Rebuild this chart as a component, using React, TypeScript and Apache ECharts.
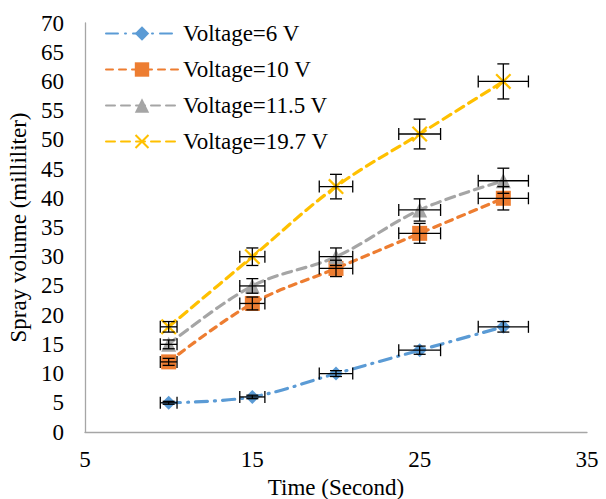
import React, { useEffect, useRef } from "react";
import * as echarts from "echarts";

const seriesNames = ["Voltage=6 V", "Voltage=10 V", "Voltage=11.5 V", "Voltage=19.7 V"];
const timeValues = [10, 15, 20, 25, 30];
const timeErrors = [0.5, 0.75, 1, 1.25, 1.5];
const volume6V = [5, 6, 10, 14, 18];
const volume10V = [12, 22, 28, 34, 40];
const volume11V = [15, 25, 30, 38, 43];
const volume19V = [18, 30, 42, 51, 60];
const err6V = [0.25, 0.3, 0.5, 0.7, 0.9];
const err10V = [0.6, 1.1, 1.4, 1.7, 2];
const err11V = [0.75, 1.25, 1.5, 1.9, 2.15];
const err19V = [0.9, 1.5, 2.1, 2.55, 3];
const xTicks = { min: 5, max: 35, interval: 10 };
const yTicks = { min: 0, max: 70, interval: 5 };

const FONT = "'Liberation Serif', 'Times New Roman', serif";
const FS = 23;
const colors = ["#5B9BD5", "#ED7D31", "#A5A5A5", "#FFC000"];
const dashes = [[12, 7, 1, 7], [7, 6], [9, 6], [9, 6]];
const symbols = [
  "diamond",
  "rect",
  "triangle",
  "path://M0,1 L1,0 L10,9 L9,10 Z M9,0 L10,1 L1,10 L0,9 Z",
];
const symbolSizes = [14, 15, 15, 16];

export default function App() {
  const ref = useRef<HTMLDivElement>(null);
  useEffect(() => {
    if (!ref.current) return;
    document.body.style.margin = "0";
    const chart = echarts.init(ref.current, null, { renderer: "svg" });
    const values = [volume6V, volume10V, volume11V, volume19V];
    const errs = [err6V, err10V, err11V, err19V];

    const errData: number[][] = [];
    values.forEach((vals, s) => {
      vals.forEach((v, i) => {
        errData.push([timeValues[i], v, timeErrors[i], errs[s][i]]);
      });
    });

    const cap = 6;
    const lineStyle = { stroke: "#000", lineWidth: 1.3 };

    const lineSeries = values.map((vals, s) => ({
      name: seriesNames[s],
      type: "line",
      smooth: 0.35,
      data: vals.map((v, i) => [timeValues[i], v]),
      symbol: symbols[s],
      symbolSize: symbolSizes[s],
      itemStyle: { color: colors[s] },
      lineStyle: { color: colors[s], width: 3.2, type: dashes[s], cap: "round" },
      z: 3,
    }));

    chart.setOption({
      animation: false,
      backgroundColor: "#fff",
      textStyle: { fontFamily: FONT },
      grid: {
        left: 85,
        right: 19,
        top: 23,
        bottom: 67,
        containLabel: false,
        outerBoundsMode: "none",
      },
      legend: {
        data: seriesNames,
        orient: "vertical",
        left: 100,
        top: 17,
        itemWidth: 72,
        itemHeight: 18,
        itemGap: 13,
        textStyle: { fontFamily: FONT, fontSize: FS, color: "#000" },
      },
      xAxis: {
        type: "value",
        min: xTicks.min,
        max: xTicks.max,
        interval: xTicks.interval,
        name: "Time (Second)",
        nameLocation: "middle",
        nameGap: 41,
        nameTextStyle: { fontFamily: FONT, fontSize: FS, color: "#000" },
        axisLine: { show: true, lineStyle: { color: "#A6A6A6", width: 1.3 } },
        axisTick: { show: false },
        splitLine: { show: false },
        axisLabel: { fontFamily: FONT, fontSize: FS, color: "#000", margin: 16 },
      },
      yAxis: {
        type: "value",
        min: yTicks.min,
        max: yTicks.max,
        interval: yTicks.interval,
        name: "Spray volume (milliliter)",
        nameLocation: "middle",
        nameGap: 54,
        nameTextStyle: { fontFamily: FONT, fontSize: FS, color: "#000" },
        axisLine: { show: true, lineStyle: { color: "#A6A6A6", width: 1.3 } },
        axisTick: { show: false },
        splitLine: { show: false },
        axisLabel: { fontFamily: FONT, fontSize: FS, color: "#000", margin: 21 },
      },
      series: [
        {
          type: "custom",
          name: "errors",
          data: errData,
          encode: { x: 0, y: 1 },
          z: 4,
          renderItem: (params: any, api: any) => {
            const x = api.value(0);
            const y = api.value(1);
            const xe = api.value(2);
            const ye = api.value(3);
            const l = api.coord([x - xe, y]);
            const r = api.coord([x + xe, y]);
            const t = api.coord([x, y + ye]);
            const b = api.coord([x, y - ye]);
            const mk = (x1: number, y1: number, x2: number, y2: number) => ({
              type: "line",
              shape: { x1, y1, x2, y2 },
              style: lineStyle,
            });
            return {
              type: "group",
              children: [
                mk(l[0], l[1], r[0], r[1]),
                mk(l[0], l[1] - cap, l[0], l[1] + cap),
                mk(r[0], r[1] - cap, r[0], r[1] + cap),
                mk(t[0], t[1], b[0], b[1]),
                mk(t[0] - cap, t[1], t[0] + cap, t[1]),
                mk(b[0] - cap, b[1], b[0] + cap, b[1]),
              ],
            };
          },
        },
        ...lineSeries,
      ],
    });
    return () => chart.dispose();
  }, []);
  return <div ref={ref} style={{ width: 606, height: 499 }} />;
}
